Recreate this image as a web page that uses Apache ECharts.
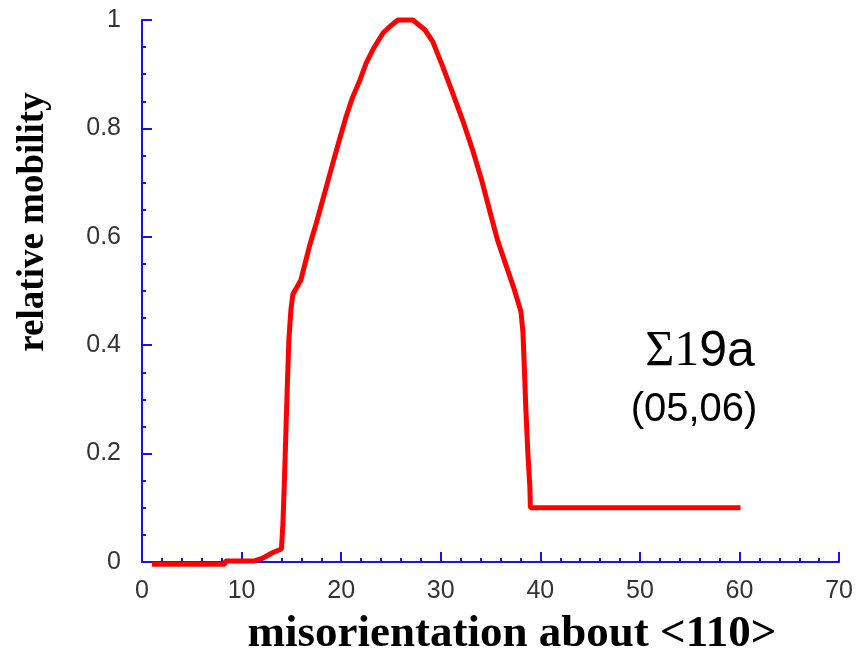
<!DOCTYPE html>
<html>
<head>
<meta charset="utf-8">
<script src="https://cdn.jsdelivr.net/npm/echarts@6/dist/echarts.min.js"></script>
<style>
html, body { margin: 0; padding: 0; background: #fff; }
#chart { width: 856px; height: 653px; }
</style>
</head>
<body>
<div id="chart"></div>
<script>
// misorientation (deg) and relative mobility
var misorientation = [1, 8.3, 8.4, 11.3, 12.1, 13.1, 14.0, 14.15, 14.3, 14.45, 14.6, 14.75, 14.95, 15.15, 15.95,
	16.85, 17.5, 18.6, 19.3, 19.9, 20.5, 21.1, 21.9, 22.5, 23.2, 24.2, 24.9, 25.7, 27.2, 28.4, 29.2, 30.2,
	31.2, 32.2, 33.2, 34.1, 34.9, 35.7, 36.6, 37.4, 38.05, 38.25, 38.4, 38.55, 38.75, 38.95, 39.0, 60.1];
var mobility = [-0.004, -0.004, 0.002, 0.002, 0.007, 0.017, 0.024, 0.07, 0.15, 0.24, 0.33, 0.41, 0.465, 0.494, 0.52,
	0.585, 0.625, 0.698, 0.745, 0.784, 0.822, 0.855, 0.89, 0.92, 0.946, 0.976, 0.988, 1.0, 1.0, 0.982, 0.96, 0.914,
	0.865, 0.815, 0.76, 0.705, 0.649, 0.594, 0.545, 0.502, 0.462, 0.425, 0.355, 0.28, 0.2, 0.137, 0.1, 0.1];
var xTitle = "misorientation about <110>";
var yTitle = "relative mobility";
var planeLabel = "(05,06)";

var axisBlue = "#1515e6";
var chart = echarts.init(document.getElementById("chart"));

var points = [];
for (var i = 0; i < misorientation.length; i++) {
	points.push([misorientation[i], mobility[i]]);
}

var option = {
	animation: false,
	grid: { left: 142, right: 16, top: 20, bottom: 91 },
	xAxis: {
		type: "value",
		min: 0,
		max: 70,
		interval: 10,
		axisLine: { lineStyle: { color: axisBlue, width: 2 } },
		axisTick: { inside: true, length: 10, lineStyle: { color: axisBlue, width: 2 } },
		minorTick: { show: true, splitNumber: 5, length: 4, lineStyle: { color: axisBlue, width: 2 } },
		splitLine: { show: false },
		axisLabel: { margin: 17, fontFamily: "Liberation Sans", fontSize: 25, color: "#333" }
	},
	yAxis: {
		type: "value",
		min: 0,
		max: 1,
		interval: 0.2,
		axisLine: { show: true, lineStyle: { color: axisBlue, width: 2 } },
		axisTick: { show: true, inside: true, length: 10, lineStyle: { color: axisBlue, width: 2 } },
		minorTick: { show: true, splitNumber: 4, length: 4, lineStyle: { color: axisBlue, width: 2 } },
		splitLine: { show: false },
		axisLabel: { margin: 21, fontFamily: "Liberation Sans", fontSize: 25, color: "#333" }
	},
	series: [{
		type: "line",
		data: points,
		showSymbol: false,
		clip: false,
		lineStyle: { color: "#ff0000", width: 5 }
	}],
	graphic: [
		{
			type: "text",
			x: 512, y: 634,
			style: {
				text: xTitle, fill: "#000",
				font: "bold 45px 'Liberation Serif'",
				textAlign: "center", textVerticalAlign: "middle"
			}
		},
		{
			type: "text",
			x: 33, y: 222,
			rotation: Math.PI / 2,
			style: {
				text: yTitle, fill: "#000",
				font: "bold 37px 'Liberation Serif'",
				textAlign: "center", textVerticalAlign: "middle"
			}
		},
		{
			type: "text",
			x: 700, y: 352,
			style: {
				text: "{s|Σ1}{n|9a}",
				textAlign: "center", textVerticalAlign: "middle",
				rich: {
					s: { fontFamily: "Liberation Serif", fontSize: 50, fill: "#000" },
					n: { fontFamily: "Liberation Sans", fontSize: 50, fill: "#000" }
				}
			}
		},
		{
			type: "text",
			x: 694, y: 410,
			style: {
				text: planeLabel, fill: "#000",
				font: "40px 'Liberation Sans'",
				textAlign: "center", textVerticalAlign: "middle"
			}
		}
	]
};

chart.setOption(option);
</script>
</body>
</html>
